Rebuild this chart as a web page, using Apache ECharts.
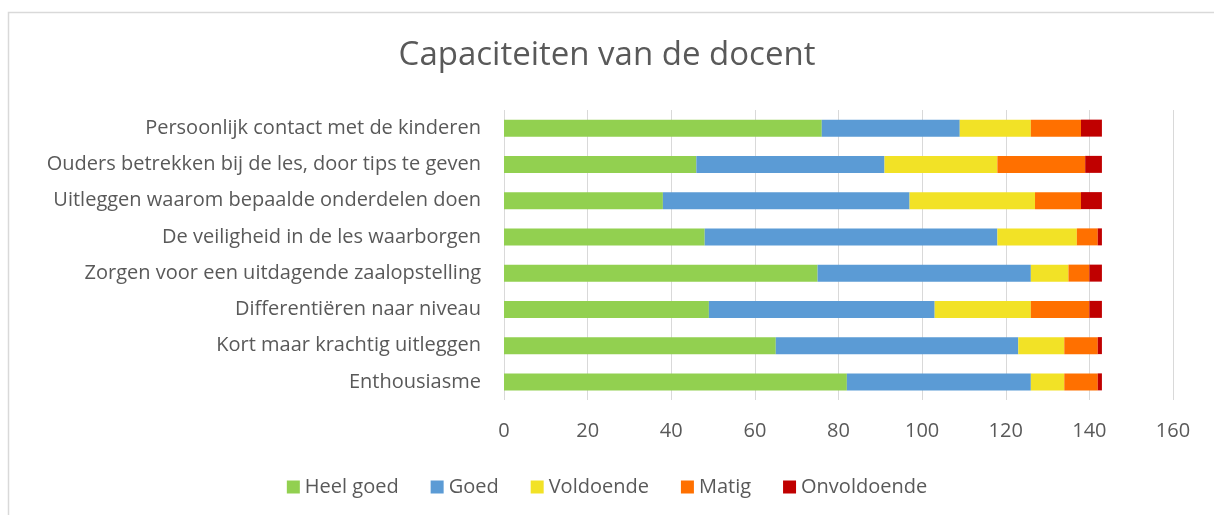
<!DOCTYPE html>
<html>
<head>
<meta charset="utf-8">
<script src="https://cdn.jsdelivr.net/npm/echarts@6/dist/echarts.min.js"></script>
<style>html,body{margin:0;padding:0;background:#fff;}#c{width:1214px;height:515px;}</style>
</head>
<body>
<div id="c"></div>
<script>
const categories = [
  "Persoonlijk contact met de kinderen",
  "Ouders betrekken bij de les, door tips te geven",
  "Uitleggen waarom bepaalde onderdelen doen",
  "De veiligheid in de les waarborgen",
  "Zorgen voor een uitdagende zaalopstelling",
  "Differentiëren naar niveau",
  "Kort maar krachtig uitleggen",
  "Enthousiasme"
];
const heelGoed   = [76, 46, 38, 48, 75, 49, 65, 82];
const goed       = [33, 45, 59, 70, 51, 54, 58, 44];
const voldoende  = [17, 27, 30, 19,  9, 23, 11,  8];
const matig      = [12, 21, 11,  5,  5, 14,  8,  8];
const onvoldoende= [ 5,  4,  5,  1,  3,  3,  1,  1];
const seriesNames = ["Heel goed", "Goed", "Voldoende", "Matig", "Onvoldoende"];
const seriesColors = ["#92d050", "#5b9bd5", "#f2e226", "#ff7000", "#c00000"];
const seriesData = [heelGoed, goed, voldoende, matig, onvoldoende];

const font = "Open Sans";
const chart = echarts.init(document.getElementById('c'), null, {renderer: 'canvas'});
chart.setOption({
  animation: false,
  backgroundColor: '#fff',
  textStyle: {fontFamily: font},
  graphic: [{
    type: 'rect', shape: {x: 8.5, y: 12.5, width: 1400, height: 700},
    style: {fill: 'none', stroke: '#d9d9d9', lineWidth: 1.5}, silent: true
  }],
  title: {
    text: 'Capaciteiten van de docent', left: 'center', top: 34,
    textStyle: {fontFamily: font, fontSize: 33, fontWeight: 'normal', color: '#595959'}
  },
  legend: {
    bottom: 13, left: 'center', itemWidth: 13, itemHeight: 13, itemGap: 32,
    icon: 'rect',
    textStyle: {fontFamily: font, fontSize: 20, color: '#595959'},
    data: seriesNames
  },
  grid: {left: 504, right: 41, top: 110, bottom: 115, containLabel: false},
  xAxis: {
    type: 'value', min: 0, max: 160, interval: 20,
    axisLine: {show: false}, axisTick: {show: false},
    axisLabel: {fontFamily: font, fontSize: 20, color: '#595959', margin: 21},
    splitLine: {lineStyle: {color: '#d9d9d9', width: 1}}
  },
  yAxis: {
    type: 'category', data: categories, inverse: true,
    axisLine: {show: false}, axisTick: {show: false},
    axisLabel: {fontFamily: font, fontSize: 20, color: '#595959', margin: 23}
  },
  series: seriesNames.map((n, i) => ({
    name: n, type: 'bar', stack: 'total', barWidth: 17,
    itemStyle: {color: seriesColors[i]},
    data: seriesData[i]
  }))
});
</script>
</body>
</html>
